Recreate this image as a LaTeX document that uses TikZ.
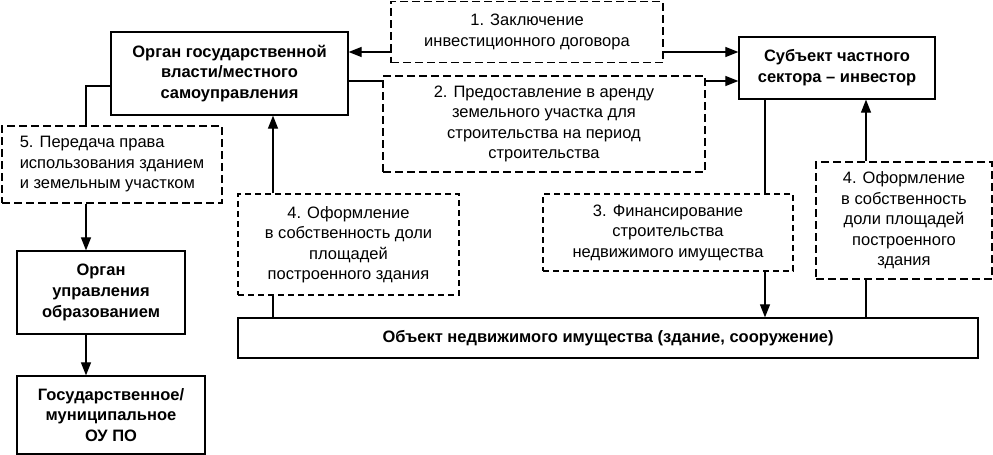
\documentclass[tikz,border=0pt]{standalone}
\usepackage{fontspec}
\setmainfont{Liberation Sans}
\usetikzlibrary{arrows.meta,positioning}

\begin{document}
\begin{tikzpicture}[x=1pt,y=-1pt,->,>={Triangle[length=13pt,width=10pt]},line width=1.2pt,
		font=\fontsize{16.5}{20.5}\selectfont,
		box/.style={draw,line width=1.3pt,align=center,inner sep=0pt,font=\fontsize{16.5}{20.8}\selectfont\bfseries},
		stage/.style={draw,dash pattern=on 8pt off 4pt,line width=1.9pt,align=center,inner sep=0pt},
		substage/.style={draw,dash pattern=on 6pt off 4pt,line width=1.1pt,align=center,inner sep=0pt}]

		\useasboundingbox (0,0) rectangle (993,455);

		\node[box, minimum width=237pt, minimum height=83pt] (org) at (229.5,73.5) {Орган государственной\\власти/местного\\самоуправления};
		\node[box, minimum width=196pt, minimum height=62pt] (inv) at (837,68) {Субъект частного\\сектора – инвестор};
		\node[box, minimum width=740pt, minimum height=40pt] (obj) at (608,338) {Объект недвижимого имущества (здание, сооружение)};
		\node[box, minimum width=168pt, minimum height=83pt] (edu) at (101,292.5) {Орган\\управления\\образованием};
		\node[box, minimum width=188pt, minimum height=78pt] (school) at (111,415) {Государственное/\\муниципальное\\ОУ ПО};

		\node[stage, minimum width=272pt, minimum height=61pt] (contract) at (527,32) {1. Заключение\\инвестиционного договора};
		\node[stage, minimum width=322pt, minimum height=96pt] (lease) at (544,124) {2. Предоставление в аренду\\земельного участка для\\строительства на период\\строительства};
		\node[substage, minimum width=250pt, minimum height=77pt] (fin) at (668,232.5) {3. Финансирование\\строительства\\недвижимого имущества};
		\node[substage, minimum width=221pt, minimum height=101pt] (ownL) at (348.5,244.5) {4. Оформление\\в собственность доли\\площадей\\построенного здания};
		\node[stage, minimum width=176pt, minimum height=117pt] (ownR) at (904,220.5) {4. Оформление\\в собственность\\доли площадей\\построенного\\здания};
		\node[stage, align=left, minimum width=220pt, minimum height=77pt] (transfer) at (112,164.5) {5. Передача права\\использования зданием\\и земельным участком};

		\draw (contract.west |- 0,52) -- (org.east |- 0,52);
		\draw (contract.east |- 0,52) -- (inv.west |- 0,52);
		\draw[-] (org.east |- 0,81) -- (lease.west |- 0,81);
		\draw (lease.east |- 0,81) -- (inv.west |- 0,81);
		\draw[-] (inv.south -| 765,0) -- (fin.north -| 765,0);
		\draw (fin.south -| 765,0) -- (obj.north -| 765,0);
		\draw (ownR.north -| 866,0) -- (inv.south -| 866,0);
		\draw[-] (obj.north -| 866,0) -- (ownR.south -| 866,0);
		\draw[-] (obj.north -| 273,0) -- (ownL.south -| 273,0);
		\draw (ownL.north -| 273,0) -- (org.south -| 273,0);
		\draw[-] (org.west |- 0,86) -| (transfer.north -| 86,0);
		\draw (transfer.south -| 86,0) -- (edu.north -| 86,0);
		\draw (edu.south -| 86,0) -- (school.north -| 86,0);
	\end{tikzpicture}
\end{document}
